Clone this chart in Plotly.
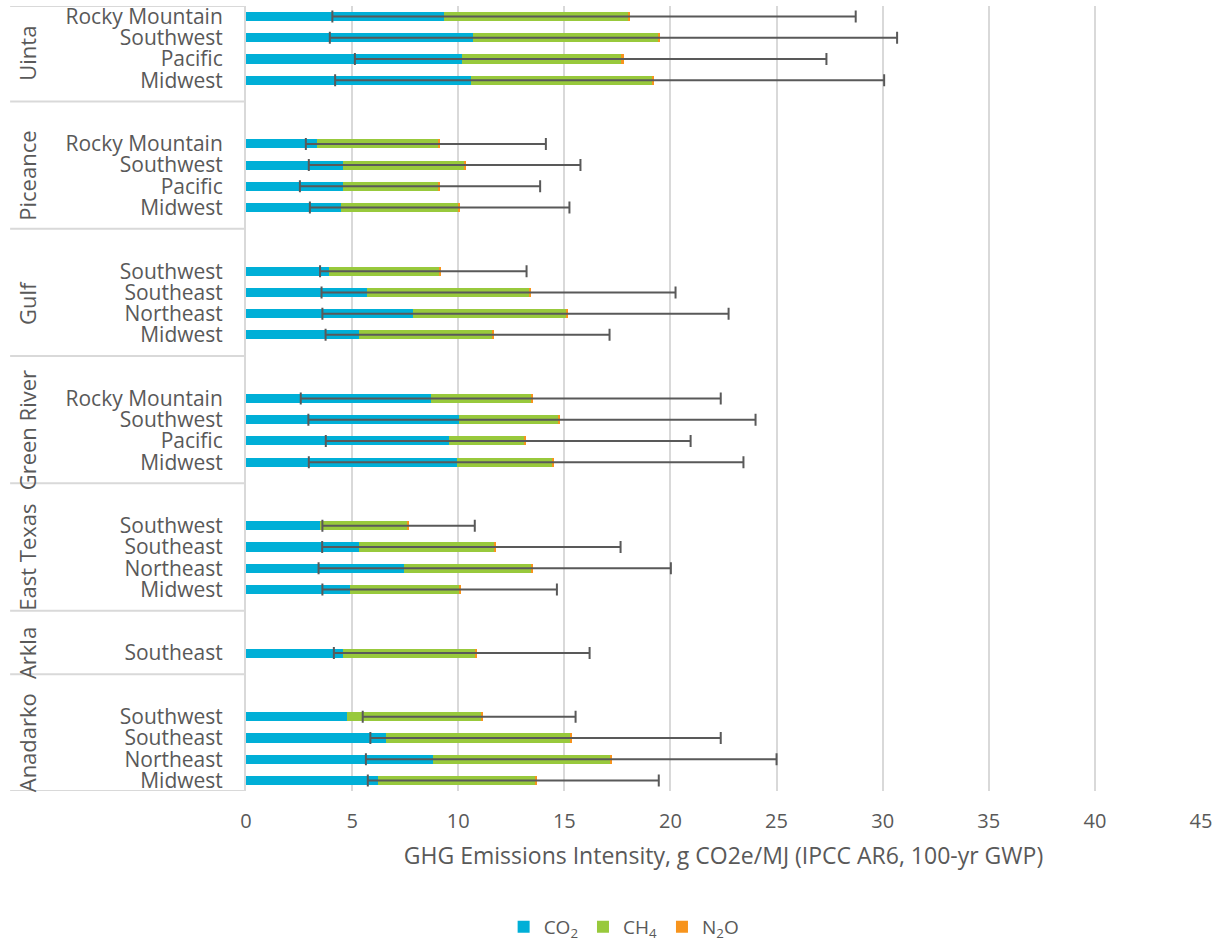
import plotly.graph_objects as go

# Basins (top to bottom) and the regions reported for each
basins = ["Uinta", "Piceance", "Gulf", "Green River", "East Texas", "Arkla", "Anadarko"]
basin_regions = [
    ["Rocky Mountain", "Southwest", "Pacific", "Midwest"],
    ["Rocky Mountain", "Southwest", "Pacific", "Midwest"],
    ["Southwest", "Southeast", "Northeast", "Midwest"],
    ["Rocky Mountain", "Southwest", "Pacific", "Midwest"],
    ["Southwest", "Southeast", "Northeast", "Midwest"],
    ["Southeast"],
    ["Southwest", "Southeast", "Northeast", "Midwest"],
]

# GHG emissions intensity by gas, g CO2e/MJ (one entry per basin/region row)
co2 = [9.32, 10.70, 10.17, 10.60,
       3.34, 4.56, 4.59, 4.47,
       3.90, 5.69, 7.86, 5.32,
       8.74, 10.04, 9.56, 9.92,
       3.51, 5.32, 7.44, 4.92,
       4.56,
       4.77, 6.59, 8.79, 6.20]
ch4 = [8.67, 8.72, 7.52, 8.53,
       5.73, 5.72, 4.46, 5.56,
       5.23, 7.68, 7.24, 6.31,
       4.73, 4.67, 3.54, 4.50,
       4.08, 6.40, 6.00, 5.12,
       6.25,
       6.35, 8.71, 8.38, 7.44]
n2o = [0.10, 0.10, 0.10, 0.10,
       0.05, 0.05, 0.05, 0.05,
       0.05, 0.05, 0.05, 0.05,
       0.05, 0.05, 0.05, 0.05,
       0.05, 0.05, 0.05, 0.05,
       0.05,
       0.05, 0.05, 0.05, 0.05]

# Uncertainty range of the total (low / high)
err_low = [4.07, 3.95, 5.13, 4.20,
           2.82, 2.96, 2.54, 3.01,
           3.49, 3.56, 3.60, 3.75,
           2.58, 2.94, 3.76, 2.96,
           3.60, 3.59, 3.42, 3.60,
           4.14,
           5.50, 5.86, 5.65, 5.74]
err_high = [28.73, 30.68, 27.35, 30.07,
            14.13, 15.76, 13.86, 15.24,
            13.22, 20.24, 22.74, 17.13,
            22.37, 24.01, 20.95, 23.44,
            10.78, 17.65, 20.02, 14.65,
            16.19,
            15.53, 22.37, 25.00, 19.45]

x_ticks = [0, 5, 10, 15, 20, 25, 30, 35, 40, 45]

# Category slots: two empty slots separate consecutive basins
GAP = 2
ypos, ylabels, groups = [], [], []
slot = 0
for b, regs in zip(basins, basin_regions):
    start = slot
    for r in regs:
        ypos.append(slot)
        ylabels.append(r)
        slot += 1
    groups.append((b, start, slot - 1))
    slot += GAP
last_slot = slot - GAP - 1

totals = [a + b + c for a, b, c in zip(co2, ch4, n2o)]
plus = [h - t for h, t in zip(err_high, totals)]
minus = [t - l for l, t in zip(err_low, totals)]

TEXT = "#595959"
GRID = "#d9d9d9"
FONT = "Open Sans"

fig = go.Figure()
bar_w = 0.43
fig.add_trace(go.Bar(y=ypos, x=co2, orientation="h", name="CO<sub>2</sub>",
                     marker=dict(color="#00afd7", line=dict(width=0)), width=bar_w))
fig.add_trace(go.Bar(y=ypos, x=ch4, orientation="h", name="CH<sub>4</sub>",
                     marker=dict(color="#98c93c", line=dict(width=0)), width=bar_w))
fig.add_trace(go.Bar(y=ypos, x=n2o, orientation="h", name="N<sub>2</sub>O",
                     marker=dict(color="#f7941d", line=dict(width=0)), width=bar_w))
fig.add_trace(go.Scatter(
    y=ypos, x=totals, mode="markers", showlegend=False, hoverinfo="skip",
    marker=dict(color="rgba(0,0,0,0)", size=1),
    error_x=dict(type="data", symmetric=False, array=plus, arrayminus=minus,
                 color="#595959", thickness=2, width=6),
))

# Basin group separators and rotated basin names on the category axis
left_edge = -0.247
for i, (b, s, e) in enumerate(groups):
    top = -0.5 if i == 0 else s - GAP / 2
    bot = last_slot + 0.5 if i == len(groups) - 1 else e + GAP / 2
    fig.add_shape(type="line", xref="paper", yref="y", x0=left_edge, x1=0,
                  y0=bot, y1=bot, line=dict(color=GRID, width=2))
    if i == 0:
        fig.add_shape(type="line", xref="paper", yref="y", x0=left_edge, x1=0,
                      y0=top, y1=top, line=dict(color=GRID, width=2))
    fig.add_annotation(xref="paper", yref="y", x=-0.2293, y=(top + bot) / 2,
                       xanchor="center", yanchor="middle",
                       text=b, textangle=-90, showarrow=False,
                       font=dict(family=FONT, size=22, color=TEXT))

fig.update_layout(
    width=1219, height=943,
    margin=dict(l=246, r=18, t=6, b=152, autoexpand=False),
    barmode="stack",
    plot_bgcolor="white", paper_bgcolor="white",
    font=dict(family=FONT, size=21, color=TEXT),
    showlegend=True,
    legend=dict(orientation="h", xref="container", yref="container",
                x=0.512, y=0.017, xanchor="center", yanchor="middle",
                traceorder="normal",
                font=dict(family=FONT, size=19, color=TEXT), itemwidth=30),
    xaxis=dict(range=[0, 45], tickvals=x_ticks, showgrid=True, gridcolor=GRID,
               gridwidth=1.5, zeroline=False, showline=False, automargin=False,
               ticklabelstandoff=16, tickfont=dict(size=20),
               title=dict(text="GHG Emissions Intensity, g CO2e/MJ (IPCC AR6, 100-yr GWP)",
                          standoff=14, font=dict(size=23, color=TEXT))),
    yaxis=dict(range=[last_slot + 0.5, -0.5], tickvals=ypos, ticktext=ylabels,
               showgrid=False, zeroline=False, showline=True, linecolor=GRID,
               automargin=False,
               linewidth=2, ticklabelstandoff=17, tickfont=dict(size=21)),
)

fig.write_html("out.html")
